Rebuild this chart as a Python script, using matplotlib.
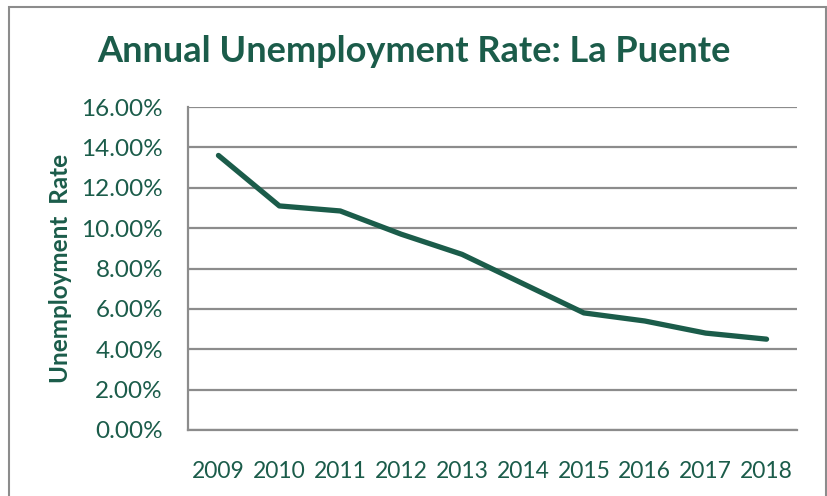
import matplotlib
matplotlib.use("Agg")
import matplotlib.pyplot as plt
from matplotlib.patches import Rectangle
from matplotlib.ticker import FuncFormatter

years = ["2009", "2010", "2011", "2012", "2013", "2014", "2015", "2016", "2017", "2018"]
rate = [13.6, 11.1, 10.85, 9.7, 8.7, 7.25, 5.8, 5.4, 4.8, 4.5]

green = "#1b5c4a"
grid_gray = "#8c8c8c"

plt.rcParams["font.family"] = ["Lato", "DejaVu Sans"]

fig = plt.figure(figsize=(8.28, 4.96), dpi=100)
ax = fig.add_axes([188 / 828, 1 - 430 / 496, (797 - 188) / 828, (430 - 107) / 496])

x = list(range(len(years)))
ax.plot(x, rate, color=green, lw=3.8, solid_capstyle="round", solid_joinstyle="round", zorder=3)

ax.set_xlim(-0.5, len(years) - 0.5)
ax.set_ylim(0, 16)
ax.set_yticks(range(0, 17, 2))
ax.yaxis.set_major_formatter(FuncFormatter(lambda v, p: f"{v:.2f}%"))
ax.set_xticks(x)
ax.set_xticklabels(years)

ax.grid(axis="y", color=grid_gray, lw=1.6)
ax.set_axisbelow(True)
for side in ["top", "right"]:
    ax.spines[side].set_visible(False)
ax.spines["left"].set_color(grid_gray)
ax.spines["left"].set_linewidth(1.6)
ax.spines["bottom"].set_color(grid_gray)
ax.spines["bottom"].set_linewidth(1.6)

ax.tick_params(axis="both", length=0, labelcolor=green)
ax.tick_params(axis="y", pad=18, labelsize=17.5)
ax.tick_params(axis="x", pad=22, labelsize=16.5)

ax.set_ylabel("Unemployment  Rate", color=green, fontsize=17.5, fontweight="bold")
ax.yaxis.set_label_coords(-(188 - 72) / 609, 0.5)

fig.text(0.5, 1 - 52 / 496, "Annual Unemployment Rate: La Puente", ha="center", va="center",
         color=green, fontsize=26, fontweight="bold")

# outer chart border
fig.patches.append(Rectangle((9 / 828, -0.1), (826 - 9) / 828, 1.1 - 7 / 496,
                             transform=fig.transFigure, fill=False, edgecolor=grid_gray, lw=1.5))

fig.savefig("out.png", dpi=100)
